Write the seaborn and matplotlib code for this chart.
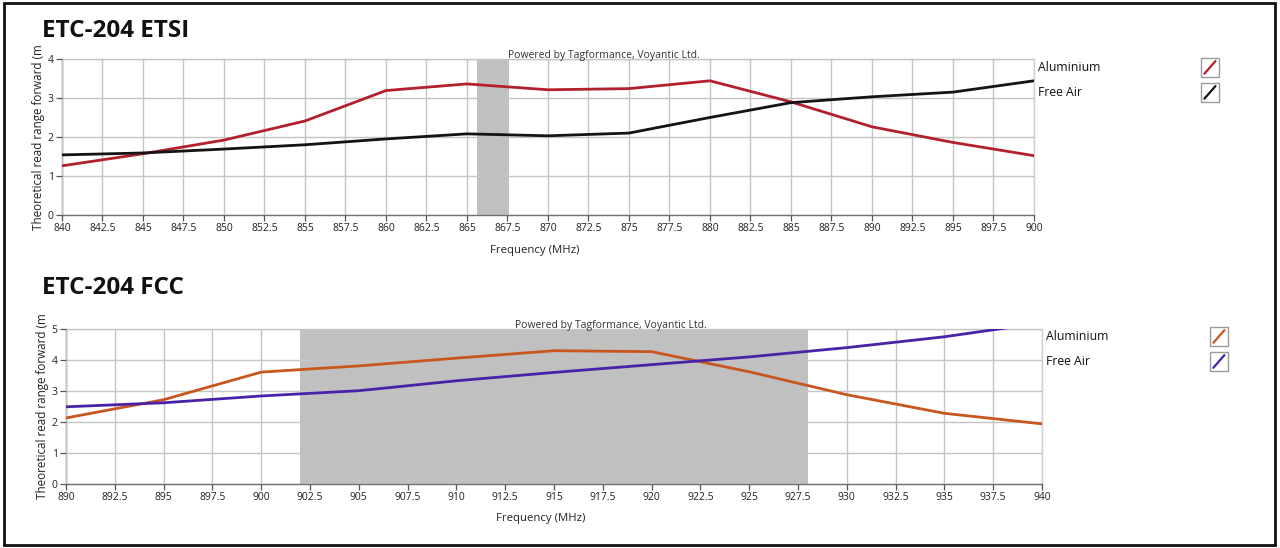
import matplotlib
matplotlib.use("Agg")
import matplotlib.pyplot as plt
import seaborn as sns
import pandas as pd
from matplotlib.patches import Rectangle
from matplotlib.lines import Line2D

# ---------------- data ----------------
etsi_freq = [840, 845, 850, 855, 860, 865, 870, 875, 880, 885, 890, 895, 900]
etsi_aluminium = [1.26, 1.57, 1.92, 2.41, 3.19, 3.36, 3.21, 3.24, 3.44, 2.90, 2.26, 1.86, 1.52]
etsi_free_air = [1.54, 1.59, 1.69, 1.80, 1.95, 2.08, 2.03, 2.10, 2.50, 2.88, 3.03, 3.15, 3.44]
etsi_band = [865.6, 867.6]
etsi_xticks = [840 + 2.5 * i for i in range(25)]
etsi_yticks = [0, 1, 2, 3, 4]

fcc_freq = [890, 895, 900, 905, 910, 915, 920, 925, 930, 935, 940]
fcc_aluminium = [2.13, 2.72, 3.61, 3.81, 4.06, 4.30, 4.27, 3.62, 2.88, 2.28, 1.94]
fcc_free_air = [2.49, 2.62, 2.84, 3.01, 3.33, 3.60, 3.85, 4.10, 4.40, 4.75, 5.20]
fcc_band = [902.0, 928.0]
fcc_xticks = [890 + 2.5 * i for i in range(21)]
fcc_yticks = [0, 1, 2, 3, 4, 5]

series_names = ["Aluminium", "Free Air"]
etsi_colors = ["#b3202d", "#141414"]
fcc_colors = ["#c8561f", "#4a22a6"]

sns.set_theme(style="white")
plt.rcParams["font.family"] = ["Open Sans", "DejaVu Sans"]

fig = plt.figure(figsize=(12.8, 5.48), dpi=100)
fig.patch.set_facecolor("white")


def fmt(v):
    return ("%g" % v)


def draw_panel(rect, freq, alu, air, band, xticks, yticks, colors, title, title_y,
               legend_x_text, legend_x_box, legend_y):
    ax = fig.add_axes(rect)
    df = pd.DataFrame({
        "Frequency": freq * 2,
        "Range": alu + air,
        "Series": [series_names[0]] * len(freq) + [series_names[1]] * len(freq),
    })
    ax.axvspan(band[0], band[1], color="#c0c0c0", zorder=0.5, lw=0)
    sns.lineplot(data=df, x="Frequency", y="Range", hue="Series",
                 palette=dict(zip(series_names, colors)), lw=2.0, ax=ax,
                 legend=False, zorder=3)
    ax.set_xlim(xticks[0], xticks[-1])
    ax.set_ylim(yticks[0], yticks[-1])
    ax.set_xticks(xticks)
    ax.set_xticklabels([fmt(t) for t in xticks])
    ax.set_yticks(yticks)
    ax.grid(True, color="#c4c4c4", lw=1.0, zorder=1)
    ax.set_axisbelow(False)
    for s in ["top", "right"]:
        ax.spines[s].set_color("#d0d0d0")
        ax.spines[s].set_linewidth(1.0)
    for s in ["left", "bottom"]:
        ax.spines[s].set_color("#707070")
        ax.spines[s].set_linewidth(1.0)
    ax.tick_params(axis="both", which="both", direction="out", length=4, width=0.9,
                   color="#555555", labelsize=7.5, labelcolor="#222222", pad=2,
                   bottom=True, left=True)
    ax.set_xlabel("Frequency (MHz)", fontsize=8.2, color="#222222")
    ax.xaxis.set_label_coords(0.486, -0.19)
    ax.set_ylabel("Theoretical read range forward (m", fontsize=8.4, color="#222222",
                  labelpad=2)
    ax.text(0.558, 1.02, "Powered by Tagformance, Voyantic Ltd.", transform=ax.transAxes,
            ha="center", va="center", fontsize=7.5, color="#333333")
    fig.text(0.033, title_y, title, fontsize=17.5, fontweight="bold", color="#111111",
             ha="left", va="center")
    # legend
    for i, (name, c) in enumerate(zip(series_names, colors)):
        yc = legend_y - i * 0.0456
        fig.text(legend_x_text, yc, name, fontsize=8.8, color="#111111",
                 ha="left", va="center")
        bw, bh = 0.0135, 0.036
        fig.patches.append(Rectangle((legend_x_box, yc - bh / 2), bw, bh,
                                     transform=fig.transFigure, fill=False,
                                     edgecolor="#9a9a9a", lw=1.0))
        fig.lines.append(Line2D([legend_x_box + bw * 0.18, legend_x_box + bw * 0.82],
                                [yc - bh * 0.32, yc + bh * 0.32],
                                transform=fig.transFigure, color=c, lw=1.6))
    return ax


draw_panel([0.0484, 0.6077, 0.7594, 0.2847], etsi_freq, etsi_aluminium, etsi_free_air,
           etsi_band, etsi_xticks, etsi_yticks, etsi_colors, "ETC-204 ETSI", 0.943,
           0.811, 0.9385, 0.877)
draw_panel([0.0516, 0.1168, 0.7625, 0.2828], fcc_freq, fcc_aluminium, fcc_free_air,
           fcc_band, fcc_xticks, fcc_yticks, fcc_colors, "ETC-204 FCC", 0.474,
           0.817, 0.9455, 0.386)

# outer frame
fig.patches.append(Rectangle((0.003, 0.005), 0.993, 0.99, transform=fig.transFigure,
                             fill=False, edgecolor="#111111", lw=2.0))

fig.savefig("out.png", dpi=100, facecolor="white")
